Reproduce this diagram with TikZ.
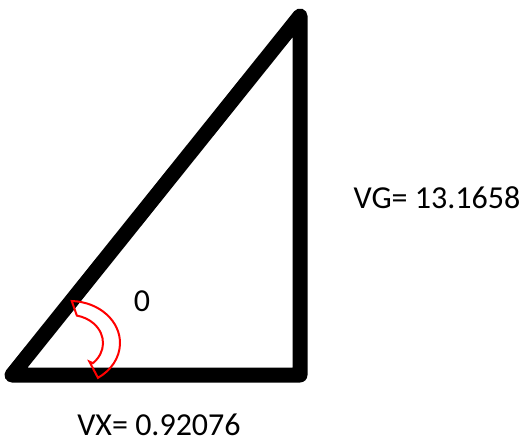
\documentclass[tikz,border=0pt]{standalone}
\usepackage{fontspec}
\setmainfont{Carlito}
\usepackage{tikz}
\usetikzlibrary{calc}

\begin{document}
\begin{tikzpicture}[
    x=0.75pt, y=-0.75pt,
    side/.style={draw=black, line width=11.25pt, line join=round, line cap=round},
    anglemark/.style={draw=red, line width=1.5pt, line join=miter},
    lbl/.style={anchor=base, inner sep=0pt, font=\fontsize{24}{28}\selectfont}
]
    \useasboundingbox (0,0) rectangle (522,439);

    % corners of the triangle
    \coordinate (bl) at (12,375);
    \coordinate (tr) at (300,16);
    \coordinate (br) at (300,375);
    \coordinate (ac) at (70,343);

    \draw [side] (bl) -- (tr) -- (br) -- cycle;

    % angle marker
    \draw [anglemark] (ac) ++(-88:50 and 42)
        arc[start angle=-88, end angle=56, x radius=50, y radius=42]
        -- ($(ac)+(48:29 and 25)$)
        -- ($(ac)+(46:33 and 28)$)
        arc[start angle=46, end angle=-78, x radius=33, y radius=28]
        -- cycle;

    \node [lbl] (theta) at (142,311) {0};
    \node [lbl] (vg) at (437,208) {VG= 13.1658};
    \node [lbl] (vx) at (159,435) {VX= 0.92076};
\end{tikzpicture}
\end{document}
